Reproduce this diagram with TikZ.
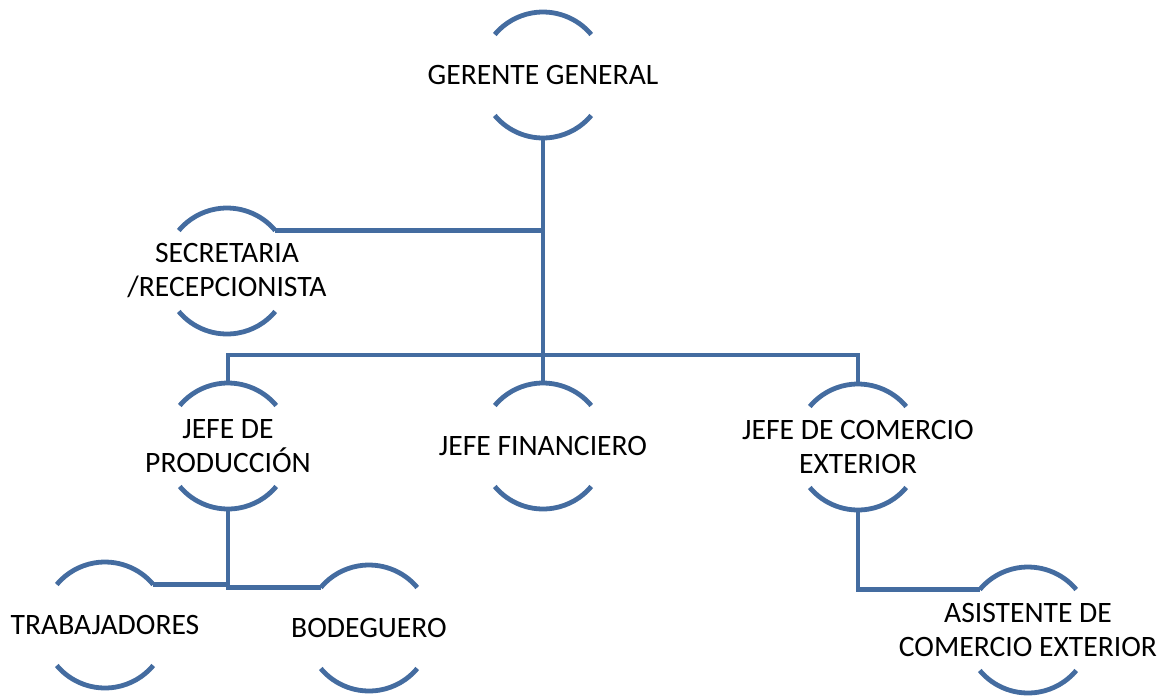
\documentclass[tikz,border=0pt]{standalone}
\usepackage{fontspec}
\setmainfont{Carlito}
\usetikzlibrary{calc}
\definecolor{orgblue}{RGB}{68,108,160}
\newcommand\R{47.25pt}
% node with a top and bottom arc, plus named points on those arcs
\newcommand\orgnode[3]{%
  \node[orgtext] (#1) at (#2) {#3};
  \coordinate (#1-t)  at ([shift={(90:\R)}]#1.center);
  \coordinate (#1-b)  at ([shift={(270:\R)}]#1.center);
  \coordinate (#1-tr) at ([shift={(40:\R)}]#1.center);
  \coordinate (#1-tl) at ([shift={(140:\R)}]#1.center);
  \draw[orgline] (#1-tr) arc[start angle=40,end angle=140,radius=\R];
  \draw[orgline] ([shift={(220:\R)}]#1.center) arc[start angle=220,end angle=320,radius=\R];
}
\begin{document}
\begin{tikzpicture}[x=0.75pt,y=-0.75pt,
  orgtext/.style={align=center,inner sep=0pt,font=\fontsize{22.2}{25.5}\selectfont},
  orgline/.style={draw=orgblue,line width=3.6pt},
  conn/.style={draw=orgblue,line width=3.4pt}]
\useasboundingbox (0,0) rectangle (1163,697);

\orgnode{ger}{543,75}{GERENTE GENERAL}
\orgnode{sec}{227,271}{SECRETARIA\\/RECEPCIONISTA}
\orgnode{prod}{228,446}{JEFE DE\\PRODUCCIÓN}
\orgnode{fin}{543,446}{JEFE FINANCIERO}
\orgnode{com}{858,447}{JEFE DE COMERCIO\\EXTERIOR}
\orgnode{trab}{105,625}{TRABAJADORES}
\orgnode{bod}{369,628}{BODEGUERO}
\orgnode{asis}{1028,630}{ASISTENTE DE\\COMERCIO EXTERIOR}

\coordinate (bus) at (543,355);

\draw[conn] (ger-b) -- (fin-t);
\draw[conn] (sec-tr) -- (sec-tr -| ger-b);
\draw[conn] (prod-t) |- (bus) -| (com-t);
\draw[conn] (prod-b) |- (trab-tr);
\draw[conn] (prod-b) |- (bod-tl);
\draw[conn] (com-b) |- (asis-tl);
\end{tikzpicture}
\end{document}
